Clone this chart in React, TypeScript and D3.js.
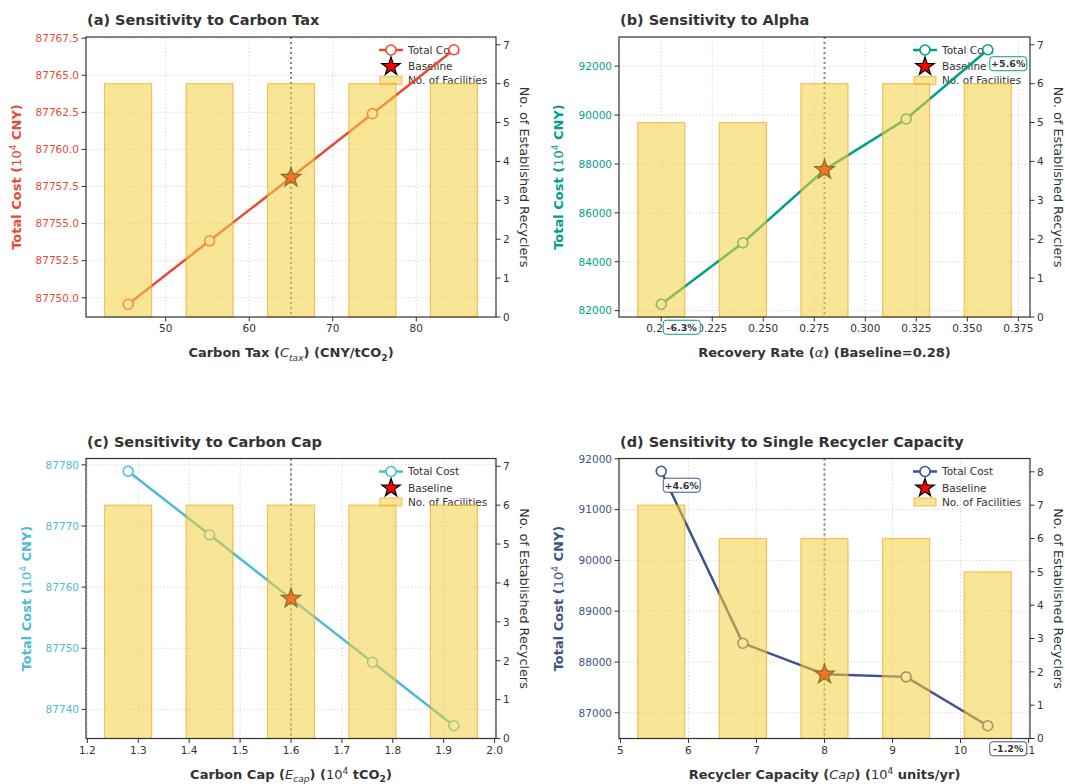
import React from "react";
import * as d3 from "d3";

const W = 1065;
const H = 784;
const FONT = "DejaVu Sans";

// (a) carbon tax
const taxX = [45.5, 55.25, 65, 74.75, 84.5];
const taxCost = [87749.56, 87753.84, 87758.1, 87762.41, 87766.72];
const taxFac = [6, 6, 6, 6, 6];
const taxXTicks = [50, 60, 70, 80];
const taxYTicks = [87750, 87752.5, 87755, 87757.5, 87760, 87762.5, 87765, 87767.5];

// (b) recovery rate alpha
const alphaX = [0.2, 0.24, 0.28, 0.32, 0.36];
const alphaCost = [82261, 84776, 87758, 89837, 92669];
const alphaFac = [5, 5, 6, 6, 6];
const alphaXTicks = [0.2, 0.225, 0.25, 0.275, 0.3, 0.325, 0.35, 0.375];
const alphaYTicks = [82000, 84000, 86000, 88000, 90000, 92000];

// (c) carbon cap
const capX = [1.28, 1.44, 1.6, 1.76, 1.92];
const capCost = [87778.96, 87768.57, 87758.12, 87747.72, 87737.32];
const capFac = [6, 6, 6, 6, 6];
const capXTicks = [1.2, 1.3, 1.4, 1.5, 1.6, 1.7, 1.8, 1.9, 2.0];
const capYTicks = [87740, 87750, 87760, 87770, 87780];

// (d) single recycler capacity
const recX = [5.6, 6.8, 8, 9.2, 10.4];
const recCost = [91756, 88369, 87758, 87707, 86744];
const recFac = [7, 6, 6, 6, 5];
const recXTicks = [5, 6, 7, 8, 9, 10, 11];
const recYTicks = [87000, 88000, 89000, 90000, 91000, 92000];

const BASE_IDX = 2;
const BAR_FILL = "#F4D03F";
const BAR_EDGE = "#F39C12";
const INK = "#333333";

type Part = { t: string; it?: boolean; math?: boolean; sub?: boolean; sup?: boolean };

function Rich({ parts }: { parts: Part[] }) {
  let shift = 0;
  return (
    <>
      {parts.map((p, i) => {
        const target = p.sub ? 3.5 : p.sup ? -5 : 0;
        const dy = target - shift;
        shift = target;
        return (
          <tspan
            key={i}
            dy={dy !== 0 ? dy : undefined}
            fontStyle={p.it ? "italic" : undefined}
            fontWeight={p.math ? "normal" : undefined}
            fontSize={p.sub || p.sup ? "70%" : undefined}
          >
            {p.t}
          </tspan>
        );
      })}
    </>
  );
}

const yLabelParts: Part[] = [
  { t: "Total Cost (" },
  { t: "10", math: true },
  { t: "4", math: true, sup: true },
  { t: " CNY)" },
];

type Spec = {
  title: string;
  x: number[];
  cost: number[];
  fac: number[];
  xTicks: number[];
  yTicks: number[];
  xFmt: (v: number) => string;
  yFmt: (v: number) => string;
  color: string;
  xLabel: Part[];
  left: number;
  top: number;
  w: number;
  h: number;
  yLabelOff: number;
};

function Panel({ s }: { s: Spec }) {
  const { left: L, top: T, w, h } = s;
  const R = L + w;
  const B = T + h;
  const step = s.x[1] - s.x[0];
  const bw = step * 0.577;
  const x0 = s.x[0] - bw / 2;
  const x1 = s.x[s.x.length - 1] + bw / 2;
  const xp = (x1 - x0) * 0.05;
  const x = d3.scaleLinear().domain([x0 - xp, x1 + xp]).range([L, R]);
  const [c0, c1] = d3.extent(s.cost) as [number, number];
  const yp = (c1 - c0) * 0.05;
  const y = d3.scaleLinear().domain([c0 - yp, c1 + yp]).range([B, T]);
  const facMax = d3.max(s.fac) as number;
  const y2 = d3.scaleLinear().domain([0, facMax * 1.2]).range([B, T]);
  const y2Ticks = d3.range(0, Math.floor(facMax * 1.2) + 1);

  const line = d3
    .line<number>()
    .x((_, i) => x(s.x[i]))
    .y((d) => y(d));

  const star = d3.symbol(d3.symbolStar, 120)() as string;
  const starLegend = d3.symbol(d3.symbolStar, 105)() as string;

  const base = s.cost[BASE_IDX];
  const iMax = s.cost.indexOf(c1);
  const iMin = s.cost.indexOf(c0);
  const pct = (v: number) => (v / base - 1) * 100;
  const notes = [
    { i: iMax, off: 7 },
    { i: iMin, off: 16 },
  ].filter((n) => Math.abs(pct(s.cost[n.i])) >= 1);

  const lx = R - 105;
  const ly = [T + 13, T + 29.5, T + 43.5];

  return (
    <g fontFamily={FONT}>
      {/* grid */}
      <g stroke="#d0d0d0" strokeWidth={0.8} strokeDasharray="1.5,2">
        {s.xTicks.map((t) => (
          <line key={"gx" + t} x1={x(t)} x2={x(t)} y1={T} y2={B} />
        ))}
        {s.yTicks.map((t) => (
          <line key={"gy" + t} x1={L} x2={R} y1={y(t)} y2={y(t)} />
        ))}
      </g>
      {/* baseline marker line */}
      <line
        x1={x(s.x[BASE_IDX])}
        x2={x(s.x[BASE_IDX])}
        y1={T}
        y2={B}
        stroke="#808080"
        strokeWidth={2}
        strokeDasharray="2,3"
      />
      {/* legend */}
      <g fontSize={10.5} fill={INK}>
        <line x1={lx - 12} x2={lx + 12} y1={ly[0]} y2={ly[0]} stroke={s.color} strokeWidth={2.5} />
        <circle cx={lx} cy={ly[0]} r={5} fill="white" stroke={s.color} strokeWidth={1.6} />
        <path d={starLegend} transform={`translate(${lx},${ly[1]})`} fill="red" stroke="black" strokeWidth={1.2} />
        <rect
          x={lx - 11}
          y={ly[2] - 4}
          width={22}
          height={8}
          fill={BAR_FILL}
          fillOpacity={0.55}
          stroke={BAR_EDGE}
          strokeOpacity={0.55}
          strokeWidth={1.2}
        />
        <text x={lx + 17} y={ly[0] + 3.8}>Total Cost</text>
        <text x={lx + 17} y={ly[1] + 3.8}>Baseline</text>
        <text x={lx + 17} y={ly[2] + 3.8}>No. of Facilities</text>
      </g>
      {/* cost line */}
      <path d={line(s.cost) as string} fill="none" stroke={s.color} strokeWidth={2.5} />
      {s.cost.map((c, i) => (
        <circle key={i} cx={x(s.x[i])} cy={y(c)} r={5} fill="white" stroke={s.color} strokeWidth={1.6} />
      ))}
      <path
        d={star}
        transform={`translate(${x(s.x[BASE_IDX])},${y(base)})`}
        fill="red"
        stroke="black"
        strokeWidth={1.2}
      />
      {/* facilities bars */}
      {s.fac.map((f, i) => (
        <rect
          key={"b" + i}
          x={x(s.x[i] - bw / 2)}
          y={y2(f)}
          width={x(s.x[i] + bw / 2) - x(s.x[i] - bw / 2)}
          height={B - y2(f)}
          fill={BAR_FILL}
          fillOpacity={0.55}
          stroke={BAR_EDGE}
          strokeOpacity={0.6}
          strokeWidth={1.2}
        />
      ))}
      {/* frame */}
      <rect x={L} y={T} width={w} height={h} fill="none" stroke={INK} strokeWidth={1.2} />
      {/* x ticks */}
      <g fontSize={10.5} fill={INK} textAnchor="middle">
        {s.xTicks.map((t) => (
          <g key={"xt" + t}>
            <line x1={x(t)} x2={x(t)} y1={B} y2={B + 4.5} stroke={INK} />
            <text x={x(t)} y={B + 15}>{s.xFmt(t)}</text>
          </g>
        ))}
      </g>
      {/* left ticks */}
      <g fontSize={10.5} fill={s.color} textAnchor="end">
        {s.yTicks.map((t) => (
          <g key={"yt" + t}>
            <line x1={L - 4.5} x2={L} y1={y(t)} y2={y(t)} stroke={INK} />
            <text x={L - 7} y={y(t) + 3.8}>{s.yFmt(t)}</text>
          </g>
        ))}
      </g>
      {/* right ticks */}
      <g fontSize={10.5} fill={INK} textAnchor="start">
        {y2Ticks.map((t) => (
          <g key={"y2t" + t}>
            <line x1={R} x2={R + 4.5} y1={y2(t)} y2={y2(t)} stroke={INK} />
            <text x={R + 7} y={y2(t) + 3.8}>{t}</text>
          </g>
        ))}
      </g>
      {/* titles and labels */}
      <text x={L + 1} y={T - 12} fontSize={14.5} fontWeight="bold" fill={INK}>
        {s.title}
      </text>
      <text x={(L + R) / 2} y={B + 40} fontSize={13} fontWeight="bold" fill={INK} textAnchor="middle">
        <Rich parts={s.xLabel} />
      </text>
      <text
        transform={`translate(${L - s.yLabelOff},${(T + B) / 2}) rotate(-90)`}
        fontSize={13}
        fontWeight="bold"
        fill={s.color}
        textAnchor="middle"
      >
        <Rich parts={yLabelParts} />
      </text>
      <text
        transform={`translate(${R + 24},${(T + B) / 2}) rotate(90)`}
        fontSize={12.8}
        fill={INK}
        textAnchor="middle"
      >
        No. of Established Recyclers
      </text>
      {/* change annotations */}
      {notes.map((n) => {
        const px = x(s.x[n.i]);
        const py = y(s.cost[n.i]);
        const v = pct(s.cost[n.i]);
        const label = (v > 0 ? "+" : "") + v.toFixed(1) + "%";
        return (
          <g key={"n" + n.i}>
            <rect x={px + 2} y={py + n.off} width={37} height={14} rx={3} fill="white" stroke={s.color} strokeWidth={1} />
            <text x={px + 20.5} y={py + n.off + 10.5} fontSize={9.5} fontWeight="bold" fill={INK} textAnchor="middle">
              {label}
            </text>
          </g>
        );
      })}
    </g>
  );
}

const specs: Spec[] = [
  {
    title: "(a) Sensitivity to Carbon Tax",
    x: taxX,
    cost: taxCost,
    fac: taxFac,
    xTicks: taxXTicks,
    yTicks: taxYTicks,
    xFmt: d3.format("d"),
    yFmt: d3.format(".1f"),
    color: "#E64B35",
    xLabel: [
      { t: "Carbon Tax (" },
      { t: "C", it: true, math: true },
      { t: "tax", it: true, math: true, sub: true },
      { t: ") (CNY/tCO" },
      { t: "2", sub: true },
      { t: ")" },
    ],
    left: 86,
    top: 37,
    w: 410,
    h: 280,
    yLabelOff: 65,
  },
  {
    title: "(b) Sensitivity to Alpha",
    x: alphaX,
    cost: alphaCost,
    fac: alphaFac,
    xTicks: alphaXTicks,
    yTicks: alphaYTicks,
    xFmt: d3.format(".3f"),
    yFmt: d3.format("d"),
    color: "#00A087",
    xLabel: [
      { t: "Recovery Rate (" },
      { t: "α", it: true, math: true },
      { t: ") (Baseline=0.28)" },
    ],
    left: 619,
    top: 37,
    w: 411,
    h: 280,
    yLabelOff: 56,
  },
  {
    title: "(c) Sensitivity to Carbon Cap",
    x: capX,
    cost: capCost,
    fac: capFac,
    xTicks: capXTicks,
    yTicks: capYTicks,
    xFmt: d3.format(".1f"),
    yFmt: d3.format("d"),
    color: "#4DBBD5",
    xLabel: [
      { t: "Carbon Cap (" },
      { t: "E", it: true, math: true },
      { t: "cap", it: true, math: true, sub: true },
      { t: ") (" },
      { t: "10", math: true },
      { t: "4", math: true, sup: true },
      { t: " tCO" },
      { t: "2", sub: true },
      { t: ")" },
    ],
    left: 86,
    top: 458.5,
    w: 410,
    h: 280,
    yLabelOff: 55,
  },
  {
    title: "(d) Sensitivity to Single Recycler Capacity",
    x: recX,
    cost: recCost,
    fac: recFac,
    xTicks: recXTicks,
    yTicks: recYTicks,
    xFmt: d3.format("d"),
    yFmt: d3.format("d"),
    color: "#3C5488",
    xLabel: [
      { t: "Recycler Capacity (" },
      { t: "Cap", it: true, math: true },
      { t: ") (" },
      { t: "10", math: true },
      { t: "4", math: true, sup: true },
      { t: " units/yr)" },
    ],
    left: 619,
    top: 458.5,
    w: 411,
    h: 280,
    yLabelOff: 56,
  },
];

export default function App() {
  return (
    <div style={{ position: "absolute", left: 0, top: 0 }}>
      <svg width={W} height={H} style={{ display: "block", background: "white" }}>
        {specs.map((s, i) => (
          <Panel key={i} s={s} />
        ))}
      </svg>
    </div>
  );
}
